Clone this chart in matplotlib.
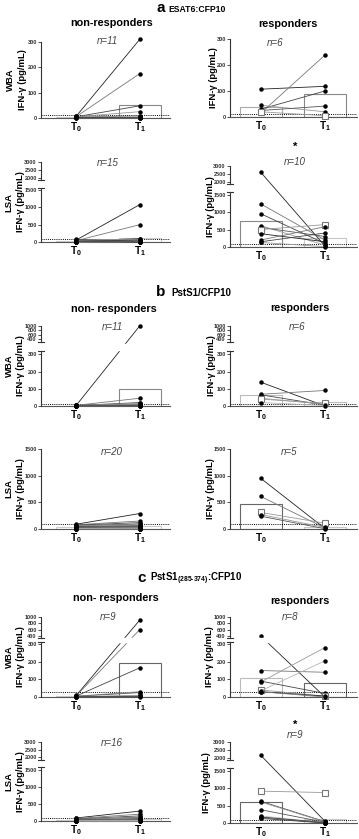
import matplotlib

matplotlib.use("Agg")
import matplotlib.pyplot as plt
import numpy as np
from matplotlib.transforms import blended_transform_factory

plt.rcParams["font.family"] = ["Liberation Sans", "DejaVu Sans"]
plt.rcParams["font.weight"] = "bold"
plt.rcParams["mathtext.fontset"] = "custom"
plt.rcParams["mathtext.rm"] = "Liberation Sans:bold"
plt.rcParams["mathtext.bf"] = "Liberation Sans:bold"
plt.rcParams["mathtext.it"] = "Liberation Sans:italic"

# IFN-gamma (pg/mL), paired T0 -> T1 per subject
a_wba_non_t0 = [8, 6, 5, 5, 4, 3, 3, 2, 2, 1, 0]
a_wba_non_t1 = [310, 175, 48, 25, 8, 5, 3, 2, 1, 1, 0]
a_wba_res_t0 = [107, 15, 30, 45, 25, 20]
a_wba_res_t1 = [118, 238, 100, 20, 42, 5]
a_lsa_non_t0 = [60, 40, 30, 80, 20, 10, 50, 5, 70, 15, 25, 0, 35, 45, 10]
a_lsa_non_t1 = [1080, 500, 100, 80, 60, 40, 30, 20, 15, 10, 5, 5, 0, 0, 0]
a_lsa_res_t0 = [2600, 1230, 950, 610, 560, 500, 380, 200, 150, 130]
a_lsa_res_t1 = [30, 200, 100, 50, 300, 640, 150, 580, 400, 10]

b_wba_non_t0 = [5, 4, 3, 3, 2, 2, 1, 1, 0, 0, 0]
b_wba_non_t1 = [1000, 45, 20, 15, 10, 8, 5, 3, 2, 0, 0]
b_wba_res_t0 = [138, 68, 65, 45, 40, 20]
b_wba_res_t1 = [0, 90, 5, 10, 15, 3]
b_lsa_non_t0 = [90, 80, 70, 60, 55, 50, 45, 40, 35, 30, 25, 20, 20, 15, 10, 10, 5, 5, 0, 0]
b_lsa_non_t1 = [290, 150, 120, 100, 90, 80, 60, 50, 40, 30, 25, 20, 15, 10, 10, 5, 5, 0, 0, 0]
b_lsa_res_t0 = [950, 610, 310, 270, 240]
b_lsa_res_t1 = [10, 20, 110, 30, 5]

c_wba_non_t0 = [10, 8, 6, 5, 4, 3, 2, 1, 0]
c_wba_non_t1 = [900, 600, 165, 30, 25, 10, 5, 3, 2]
c_wba_res_t0 = [400, 150, 90, 85, 40, 35, 30, 30]
c_wba_res_t1 = [0, 140, 20, 280, 5, 205, 5, 0]
c_lsa_non_t0 = [90, 75, 60, 50, 45, 40, 35, 30, 25, 20, 15, 10, 10, 5, 0, 0]
c_lsa_non_t1 = [290, 200, 150, 120, 100, 80, 60, 50, 40, 30, 20, 15, 10, 5, 0, 0]
c_lsa_res_t0 = [2150, 910, 620, 600, 380, 200, 170, 150, 130]
c_lsa_res_t1 = [50, 870, 40, 30, 20, 10, 10, 5, 0]

time_labels = [r"T$_{0}$", r"T$_{1}$"]
wba_ticks = [0, 100, 200, 300]
wba_brk_ticks = [0, 100, 200, 300, 400, 600, 800, 1000]
lsa_ticks = [0, 500, 1000, 1500]
lsa_brk_ticks = [0, 500, 1000, 1500, 2000, 2500, 3000]

W, H = 359, 839
fig = plt.figure(figsize=(W / 100, H / 100), dpi=100)

LEFT = dict(x0=41, x1=170, xlim=(-0.56, 1.48))
RIGHT = dict(x0=230, x1=357, xlim=(-0.48, 1.5))
LSA_BRK = (1500, 2000, 365, 0.45)
GREYS = ["#222222", "#777777", "#444444", "#999999", "#555555", "#b5b5b5"]


def brk_funcs(lo, hi, gap, r):
    def fwd(y):
        y = np.asarray(y, float)
        return np.where(y <= lo, y, np.where(y <= hi, lo + (y - lo) / (hi - lo) * gap,
                                             lo + gap + (y - hi) * r))

    def inv(v):
        v = np.asarray(v, float)
        return np.where(v <= lo, v, np.where(v <= lo + gap, lo + (v - lo) / gap * (hi - lo),
                                             hi + (v - lo - gap) / r))
    return fwd, inv


def fx(x):
    return x / W


def fy(y):
    return 1 - y / H


panels = [
    dict(t0=a_wba_non_t0, t1=a_wba_non_t1, col=LEFT, y0=118, ytop=42, top=300, brk=None,
         ticks=wba_ticks, cut=10, bars=("#cccccc", "#888888"), open=None, n_xy=(107, 41),
         ylab_x=22.5, group=("WBA", 10)),
    dict(t0=a_wba_res_t0, t1=a_wba_res_t1, col=RIGHT, y0=117, ytop=39, top=300, brk=None,
         ticks=wba_ticks, cut=10, bars=("#aaaaaa", "#888888"), open=5, n_xy=(275, 43),
         ylab_x=213),
    dict(t0=a_lsa_non_t0, t1=a_lsa_non_t1, col=LEFT, y0=242, ytop=162, top=3000, brk=LSA_BRK,
         ticks=lsa_brk_ticks, cut=100, bars=("#cccccc", "#cccccc"), open=None, n_xy=(108, 163),
         ylab_x=20.5, group=("LSA", 9)),
    dict(t0=a_lsa_res_t0, t1=a_lsa_res_t1, col=RIGHT, y0=247, ytop=166, top=3000, brk=LSA_BRK,
         ticks=lsa_brk_ticks, cut=100, bars=("#888888", "#c8c8c8"), open=5, n_xy=(295, 162),
         ylab_x=210, star=147),
    dict(t0=b_wba_non_t0, t1=b_wba_non_t1, col=LEFT, y0=406, ytop=326, top=1000,
         brk=(300, 400, 87, 0.128), gap=True, ticks=wba_brk_ticks, cut=10,
         bars=("#cccccc", "#888888"), open=None, n_xy=(112, 327), ylab_x=20.5, group=("WBA", 9)),
    dict(t0=b_wba_res_t0, t1=b_wba_res_t1, col=RIGHT, y0=406, ytop=326, top=1000,
         brk=(300, 400, 87, 0.128), gap=True, ticks=wba_brk_ticks, cut=10,
         bars=("#bbbbbb", "#bbbbbb"), open=4, n_xy=(297, 327), ylab_x=211),
    dict(t0=b_lsa_non_t0, t1=b_lsa_non_t1, col=LEFT, y0=529, ytop=449, top=1500, brk=None,
         ticks=lsa_ticks, cut=100, bars=("#cccccc", "#cccccc"), open=None, n_xy=(112, 452),
         ylab_x=20.5, group=("LSA", 9)),
    dict(t0=b_lsa_res_t0, t1=b_lsa_res_t1, col=RIGHT, y0=529, ytop=449, top=1500, brk=None,
         ticks=lsa_ticks, cut=100, bars=("#666666", "#c8c8c8"), open=2, n_xy=(289, 452),
         ylab_x=210),
    dict(t0=c_wba_non_t0, t1=c_wba_non_t1, col=LEFT, y0=697, ytop=617, top=1000,
         brk=(300, 400, 45, 0.18), gap=True, ticks=wba_brk_ticks, cut=30,
         bars=("#cccccc", "#666666"), open=None, n_xy=(108, 617), ylab_x=20.5, group=("WBA", 9)),
    dict(t0=c_wba_res_t0, t1=c_wba_res_t1, col=RIGHT, y0=697, ytop=617, top=1000,
         brk=(300, 400, 45, 0.18), gap=True, ticks=wba_brk_ticks, cut=30,
         bars=("#bbbbbb", "#666666"), open=4, n_xy=(290, 617), ylab_x=209),
    dict(t0=c_lsa_non_t0, t1=c_lsa_non_t1, col=LEFT, y0=821, ytop=742, top=3000, brk=LSA_BRK,
         ticks=lsa_brk_ticks, cut=100, bars=("#cccccc", "#cccccc"), open=None, n_xy=(112, 743),
         ylab_x=20.5, group=("LSA", 9)),
    dict(t0=c_lsa_res_t0, t1=c_lsa_res_t1, col=RIGHT, y0=823, ytop=742, top=3000, brk=LSA_BRK,
         ticks=lsa_brk_ticks, cut=100, bars=("#666666", "#cccccc"), open=1, n_xy=(295, 735),
         ylab_x=207, star=725),
]

for p in panels:
    col = p["col"]
    ax = fig.add_axes([fx(col["x0"]), fy(p["y0"]), (col["x1"] - col["x0"]) / W,
                       (p["y0"] - p["ytop"]) / H])
    t0 = np.asarray(p["t0"], float)
    t1 = np.asarray(p["t1"], float)
    if p["brk"] is not None:
        ax.set_yscale("function", functions=brk_funcs(*p["brk"]))
    ax.set_xlim(*col["xlim"])
    ax.set_ylim(0, p["top"])

    # mean bars, open rectangles
    ax.bar([0, 1], [t0.mean(), t1.mean()], width=0.66, facecolor="none",
           edgecolor=list(p["bars"]), linewidth=0.8, zorder=1)
    ax.axhline(p["cut"], color="black", ls=(0, (1, 1.2)), lw=0.7, zorder=2)

    for i, (a, b) in enumerate(zip(t0, t1)):
        if i == p["open"]:
            ax.plot([0, 1], [a, b], color="#999999", lw=0.6, zorder=3,
                    marker="s", ms=4.5, mfc="white", mec="#777777", mew=0.8, clip_on=False)
        else:
            ax.plot([0, 1], [a, b], color=GREYS[i % len(GREYS)], lw=0.6, zorder=3,
                    marker="o", ms=2.2, mfc="black", mec="black", clip_on=False)

    if p.get("gap"):
        lo, hi = p["brk"][:2]
        ax.axhspan(lo + 0.3 * (hi - lo), hi - 0.3 * (hi - lo), xmin=0.01, color="white", zorder=4)

    ax.spines["top"].set_visible(False)
    ax.spines["right"].set_visible(False)
    ax.spines["bottom"].set_color("#555555")
    ax.spines["bottom"].set_linewidth(0.8)
    if p["brk"] is not None:
        lo, hi = p["brk"][:2]
        ax.spines["left"].set_visible(False)
        tr = blended_transform_factory(ax.transAxes, ax.transData)
        y_lo = lo + 0.2 * (hi - lo)
        y_hi = hi - 0.2 * (hi - lo)
        ax.plot([0, 0], [0, y_lo], transform=tr, color="#333333", lw=0.8, clip_on=False, zorder=5)
        ax.plot([0, 0], [y_hi, p["top"]], transform=tr, color="#333333", lw=0.8, clip_on=False,
                zorder=5)
        for yy in (y_lo, y_hi):
            ax.plot([-0.02, 0.02], [yy, yy], transform=tr, color="#333333", lw=0.8,
                    clip_on=False, zorder=5)
    else:
        ax.spines["left"].set_color("#333333")
        ax.spines["left"].set_linewidth(0.8)

    ax.set_yticks(p["ticks"])
    ax.set_yticklabels([str(t) for t in p["ticks"]])
    ax.tick_params(axis="y", length=2.2, width=0.6, labelsize=4.0, pad=0.8, colors="#333333")
    ax.set_xticks([0, 1])
    ax.set_xticklabels(time_labels)
    ax.tick_params(axis="x", length=0, labelsize=7.2, pad=1.5)
    ax.patch.set_alpha(0)

    # labels
    yc = (p["y0"] + p["ytop"]) / 2
    fig.text(fx(p["ylab_x"]), fy(yc), "IFN-γ (pg/mL)", rotation=90, ha="center", va="center",
             fontsize=6.8)
    if "group" in p:
        name, gx = p["group"]
        fig.text(fx(gx), fy(yc), name, rotation=90, ha="center", va="center", fontsize=6.8)
    nx, ny = p["n_xy"]
    fig.text(fx(nx), fy(ny), f"n={len(t0)}", ha="center", va="center", fontsize=7,
             style="italic", weight="normal", color="#444444")
    if "star" in p:
        fig.text(fx(295), fy(p["star"]), "*", ha="center", va="center", fontsize=8)

# section headers
fig.text(fx(161), fy(8), "a", ha="center", va="center", fontsize=11)
fig.text(fx(168), fy(9), "ESAT6:CFP10", ha="left", va="center", fontsize=6.2)
fig.text(fx(161), fy(292), "b", ha="center", va="center", fontsize=11)
fig.text(fx(171), fy(293), "PstS1/CFP10", ha="left", va="center", fontsize=7)
fig.text(fx(142), fy(578), "c", ha="center", va="center", fontsize=11)
fig.text(fx(150), fy(579), r"PstS1$_{(285\text{-}374)}$:CFP10", ha="left", va="center",
         fontsize=7)

fig.text(fx(112), fy(23), "non-responders", ha="center", va="center", fontsize=7.8)
fig.text(fx(288), fy(24), "responders", ha="center", va="center", fontsize=7.8)
fig.text(fx(114), fy(309), "non- responders", ha="center", va="center", fontsize=7.8)
fig.text(fx(300), fy(308), "responders", ha="center", va="center", fontsize=7.8)
fig.text(fx(116), fy(598), "non- responders", ha="center", va="center", fontsize=7.8)
fig.text(fx(300), fy(601), "responders", ha="center", va="center", fontsize=7.8)

fig.savefig("out.png", dpi=100)
